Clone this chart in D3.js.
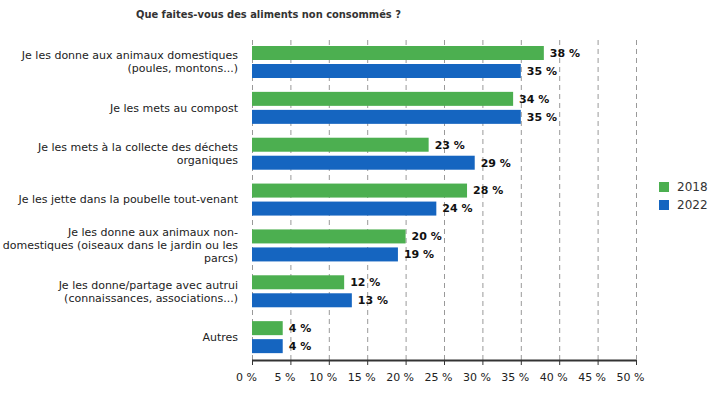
<!DOCTYPE html>
<html><head><meta charset="utf-8">
<script src="https://cdn.jsdelivr.net/npm/d3@7"></script>
<style>body{margin:0;background:#fff}svg{display:block}</style>
</head><body><svg id="c" width="725" height="400"></svg>
<script>
const title = "Que faites-vous des aliments non consommés ?";
const categories = [
  ["Je les donne aux animaux domestiques", "(poules, montons...)"],
  ["Je les mets au compost"],
  ["Je les mets à la collecte des déchets", "organiques"],
  ["Je les jette dans la poubelle tout-venant"],
  ["Je les donne aux animaux non-", "domestiques (oiseaux dans le jardin ou les", "parcs)"],
  ["Je les donne/partage avec autrui", "(connaissances, associations...)"],
  ["Autres"]
];
const seriesNames = ["2018", "2022"];
const values2018 = [38, 34, 23, 28, 20, 12, 4];
const values2022 = [35, 35, 29, 24, 19, 13, 4];
const tickValues = [0, 5, 10, 15, 20, 25, 30, 35, 40, 45, 50];
const colors = ["#4caf50", "#1565c0"];

const svg = d3.select("#c");
const mLeft = 252, mRight = 636, mTop = 40, mBottom = 361;
const x = d3.scaleLinear().domain([0, 50]).range([mLeft, mRight]);
const y0 = d3.scaleBand().domain(d3.range(categories.length)).range([mTop, mBottom]).padding(0);
const y1 = d3.scaleBand().domain([0, 1]).range([6, 38]).paddingInner(4 / 18);

svg.append("text").attr("x", 136).attr("y", 18)
  .attr("font-family", "DejaVu Sans Condensed, DejaVu Sans").attr("font-weight", "bold")
  .attr("font-size", 11).attr("fill", "#333").text(title);

// grid
svg.append("g").selectAll("line").data(tickValues).join("line")
  .attr("x1", d => x(d) + 0.5).attr("x2", d => x(d) + 0.5)
  .attr("y1", mTop).attr("y2", mBottom)
  .attr("stroke", "#999").attr("stroke-dasharray", "5,4");

// bars
const series = [values2018, values2022];
const g = svg.append("g");
categories.forEach((c, i) => {
  series.forEach((vals, s) => {
    const yy = y0(i) + y1(s);
    g.append("rect").attr("x", x(0)).attr("y", yy)
      .attr("width", x(vals[i]) - x(0)).attr("height", y1.bandwidth())
      .attr("fill", colors[s]);
    g.append("text").attr("x", x(vals[i]) + 6).attr("y", yy + y1.bandwidth() / 2)
      .attr("dy", "0.35em").attr("font-family", "DejaVu Sans").attr("font-weight", "bold")
      .attr("font-size", 11).attr("fill", "#111").text(vals[i] + " %");
  });
  const cy = y0(i) + 22;
  const lh = 13;
  const t = svg.append("text").attr("text-anchor", "end")
    .attr("font-family", "DejaVu Sans").attr("font-size", 11).attr("fill", "#222");
  c.forEach((line, k) => {
    t.append("tspan").attr("x", 238)
      .attr("y", cy + (k - (c.length - 1) / 2) * lh).attr("dy", "0.35em").text(line);
  });
});

// x axis
const ax = svg.append("g").attr("transform", `translate(0,${mBottom - 1})`)
  .call(d3.axisBottom(x).tickValues(tickValues).tickFormat(d => d + " %").tickSize(5).tickPadding(8));
ax.select(".domain").attr("stroke", "#333").attr("stroke-width", 2).attr("d", `M${mLeft},0.5H${mRight}`);
ax.selectAll(".tick line").attr("stroke", "#333");
ax.selectAll(".tick text").attr("font-family", "DejaVu Sans").attr("font-size", 11).attr("fill", "#222").attr("dx", -6);

// legend
const lg = svg.append("g").attr("transform", "translate(659,182)");
seriesNames.forEach((n, i) => {
  lg.append("rect").attr("x", 0).attr("y", i * 18).attr("width", 10).attr("height", 10).attr("fill", colors[i]);
  lg.append("text").attr("x", 18).attr("y", i * 18 + 5).attr("dy", "0.35em")
    .attr("font-family", "DejaVu Sans").attr("font-size", 12).attr("fill", "#333").text(n);
});
</script></body></html>
